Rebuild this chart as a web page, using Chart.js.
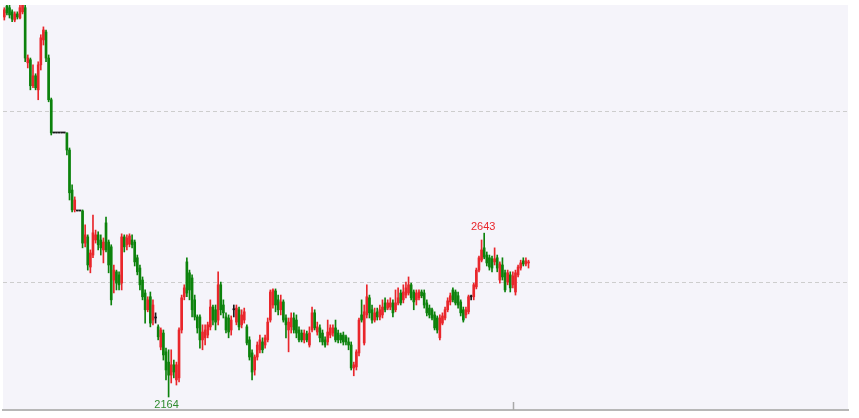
<!DOCTYPE html>
<html><head><meta charset="utf-8">
<script src="https://cdn.jsdelivr.net/npm/chart.js@4.4.1/dist/chart.umd.min.js"></script>
<style>html,body{margin:0;padding:0;background:#ffffff;}#wrap{width:859px;height:418px;}</style>
</head><body><div id="wrap"><canvas id="c" width="859" height="418"></canvas></div>
<script>
// ---- data (daily OHLC) ----
const openP = [3275,3307,3302,3290,3266,3284,3272,3290,3302,3141,
3150,3074,3103,3062,3135,3208,3231,3155,3033,2936,
2936,2936,2936,2936,2936,2886,2769,2711,2708,2708,
2708,2614,2632,2544,2579,2623,2638,2623,2594,2673,
2617,2603,2506,2530,2521,2497,2632,2609,2611,2623,
2617,2571,2541,2506,2468,2419,2457,2389,2395,2369,
2310,2351,2296,2266,2228,2258,2214,2220,2360,2457,
2559,2527,2512,2448,2398,2398,2331,2337,2345,2369,
2427,2419,2389,2492,2433,2398,2395,2360,2419,2383,
2419,2375,2389,2369,2331,2293,2243,2281,2302,2325,
2316,2331,2389,2433,2474,2448,2419,2442,2395,2360,
2369,2395,2389,2360,2351,2331,2348,2316,2360,2410,
2354,2366,2351,2331,2325,2345,2351,2366,2351,2345,
2345,2340,2325,2316,2249,2252,2293,2404,2322,2404,
2454,2419,2389,2413,2398,2404,2439,2424,2427,2439,
2419,2439,2468,2448,2462,2468,2492,2471,2448,2454,
2471,2468,2439,2424,2419,2404,2395,2337,2380,2395,
2419,2442,2477,2471,2460,2442,2419,2404,2413,2457,
2457,2486,2535,2564,2600,2579,2571,2568,2559,2571,
2506,2550,2527,2500,2521,2492,2471,2521,2541,2562,
2553,2556];
const highP = [3302,3319,3310,3296,3290,3290,3310,3340,3310,3164,
3155,3135,3109,3144,3223,3246,3237,3164,3038,2936,
2936,2936,2936,2936,2936,2892,2784,2749,2708,2708,
2711,2667,2638,2594,2696,2652,2647,2638,2629,2690,
2623,2609,2550,2535,2530,2641,2638,2638,2641,2638,
2623,2579,2550,2515,2477,2457,2471,2448,2410,2375,
2366,2360,2307,2302,2302,2272,2266,2366,2462,2492,
2571,2535,2521,2462,2404,2404,2375,2375,2383,2448,
2433,2433,2530,2500,2448,2410,2404,2401,2433,2433,
2427,2419,2424,2375,2340,2302,2287,2325,2345,2337,
2345,2395,2477,2480,2480,2462,2462,2448,2404,2395,
2410,2410,2404,2369,2360,2360,2357,2369,2427,2419,
2383,2375,2360,2340,2389,2375,2375,2389,2360,2351,
2354,2345,2337,2325,2266,2302,2395,2448,2433,2492,
2462,2433,2424,2424,2433,2448,2454,2448,2454,2448,
2477,2483,2477,2492,2500,2515,2497,2477,2477,2477,
2477,2477,2448,2433,2424,2413,2401,2404,2410,2427,
2454,2468,2483,2477,2471,2448,2427,2427,2462,2462,
2497,2541,2576,2623,2643,2588,2579,2576,2600,2579,
2559,2571,2535,2535,2530,2530,2535,2550,2564,2571,
2571,2564];
const lowP = [3266,3281,3272,3261,3261,3269,3269,3284,3144,3126,
3062,3068,3062,3033,3120,3193,3144,3027,2930,2936,
2936,2936,2936,2936,2872,2740,2705,2705,2708,2708,
2600,2603,2535,2527,2571,2614,2594,2579,2556,2588,
2527,2433,2468,2477,2477,2477,2588,2594,2603,2600,
2547,2521,2477,2448,2380,2413,2369,2375,2380,2331,
2302,2272,2214,2164,2205,2220,2199,2208,2351,2448,
2457,2448,2398,2389,2351,2307,2302,2316,2337,2360,
2375,2360,2375,2404,2395,2351,2337,2345,2398,2375,
2360,2366,2380,2316,2272,2214,2228,2272,2293,2293,
2307,2325,2383,2424,2413,2404,2404,2383,2337,2296,
2351,2351,2337,2325,2325,2322,2325,2310,2354,2360,
2345,2325,2316,2310,2316,2337,2342,2325,2322,2322,
2316,2316,2302,2243,2226,2243,2284,2383,2316,2395,
2395,2380,2383,2389,2389,2395,2413,2419,2419,2398,
2413,2433,2433,2439,2454,2462,2448,2419,2433,2448,
2454,2424,2401,2395,2389,2360,2351,2331,2375,2389,
2413,2433,2442,2433,2424,2401,2383,2395,2407,2448,
2448,2480,2530,2559,2568,2547,2535,2530,2550,2530,
2497,2506,2471,2492,2471,2483,2462,2515,2535,2547,
2547,2541];
const closeP = [3296,3287,3281,3269,3284,3275,3302,3313,3155,3155,
3074,3103,3068,3135,3214,3237,3155,3033,2936,2936,
2936,2936,2936,2936,2886,2761,2711,2740,2708,2708,
2614,2638,2550,2585,2644,2638,2609,2600,2617,2594,
2550,2448,2535,2497,2492,2632,2603,2629,2635,2609,
2559,2530,2492,2457,2419,2448,2380,2433,2395,2340,
2360,2287,2243,2228,2258,2237,2258,2360,2454,2483,
2468,2477,2419,2398,2366,2331,2354,2360,2375,2427,
2389,2383,2492,2419,2410,2360,2354,2389,2419,2424,
2369,2404,2413,2322,2281,2237,2281,2316,2331,2302,
2337,2383,2471,2477,2433,2419,2442,2389,2375,2383,
2395,2360,2351,2331,2331,2351,2331,2351,2410,2366,
2369,2337,2325,2316,2354,2366,2366,2331,2331,2331,
2325,2325,2316,2249,2258,2296,2389,2389,2413,2457,
2410,2389,2410,2398,2419,2427,2419,2439,2439,2410,
2439,2454,2439,2471,2483,2492,2454,2442,2468,2471,
2460,2433,2410,2404,2395,2366,2360,2395,2401,2419,
2445,2460,2448,2439,2433,2410,2389,2419,2457,2457,
2492,2535,2571,2594,2573,2556,2544,2541,2568,2541,
2553,2515,2477,2527,2483,2518,2527,2544,2556,2553,
2562,2559];
const gridLevels = [2500, 3000];   // dashed price lines
const yRange = [2126, 3310];       // visible price window
const slotCount = 324;             // trading-day slots on the time axis
const axisTickSlots = [195];       // time-axis tick mark

// ---- build ----
const labels = Array.from({length: slotCount}, (_, i) => String(i + 1));
const UP = '#e9262b', DOWN = '#0c820c', FLAT = '#1a1a1a';
const colors = openP.map((o, i) => closeP[i] > o ? UP : (closeP[i] < o ? DOWN : FLAT));
const bodies = openP.map((o, i) => [o, closeP[i]]);
const wicks = openP.map((o, i) => [Math.min(lowP[i], o, closeP[i]), Math.max(highP[i], o, closeP[i])]);

let lowIdx = 0;
lowP.forEach((v, i) => { if (v < lowP[lowIdx]) lowIdx = i; });
let highIdx = lowIdx;
for (let i = lowIdx; i < highP.length; i++) if (highP[i] > highP[highIdx]) highIdx = i;

const bgPlugin = {
  id: 'bg',
  beforeDraw(chart) {
    const {ctx, chartArea: a} = chart;
    ctx.save();
    ctx.fillStyle = '#f5f4fa';
    ctx.fillRect(a.left, a.top, a.right - a.left, a.bottom - a.top);
    ctx.restore();
  }
};
const decoPlugin = {
  id: 'deco',
  afterDraw(chart) {
    const {ctx, chartArea: a, scales: {x, y}} = chart;
    ctx.save();
    ctx.strokeStyle = '#a9a9a9';
    ctx.lineWidth = 1.5;
    axisTickSlots.forEach(s => {
      const px = Math.round(x.getPixelForValue(s)) + 0.5;
      ctx.beginPath(); ctx.moveTo(px, a.bottom - 8); ctx.lineTo(px, a.bottom); ctx.stroke();
    });
    ctx.font = '11px "Liberation Sans", Arial, sans-serif';
    ctx.textAlign = 'center';
    ctx.fillStyle = '#e9262b';
    ctx.textBaseline = 'bottom';
    ctx.fillText(String(highP[highIdx]), x.getPixelForValue(highIdx) - 1, y.getPixelForValue(highP[highIdx]) - 1);
    ctx.fillStyle = '#2e8b2e';
    ctx.textBaseline = 'top';
    ctx.fillText(String(lowP[lowIdx]), x.getPixelForValue(lowIdx) - 2, y.getPixelForValue(lowP[lowIdx]) + 2);
    ctx.restore();
  }
};

new Chart(document.getElementById('c'), {
  type: 'bar',
  data: {
    labels,
    datasets: [
      {data: bodies, backgroundColor: colors, barThickness: 2, grouped: false, minBarLength: 1, borderWidth: 0, order: 0},
      {data: wicks, backgroundColor: colors, barThickness: 1, grouped: false, borderWidth: 0, order: 1}
    ]
  },
  options: {
    responsive: false,
    animation: false,
    devicePixelRatio: 1,
    layout: {padding: {left: 3, right: 11, top: 5, bottom: 8}},
    plugins: {legend: {display: false}, tooltip: {enabled: false}},
    scales: {
      x: {
        type: 'category', offset: true,
        grid: {display: false, drawTicks: false},
        ticks: {display: false},
        border: {display: true, color: '#b7b7b7', width: 2}
      },
      y: {
        min: yRange[0], max: yRange[1],
        afterBuildTicks: s => { s.ticks = gridLevels.map(v => ({value: v})); },
        ticks: {display: false},
        grid: {color: '#cdcdcd', lineWidth: 1, drawTicks: false},
        border: {display: false, dash: [4, 3]}
      }
    }
  },
  plugins: [bgPlugin, decoPlugin]
});
</script></body></html>
